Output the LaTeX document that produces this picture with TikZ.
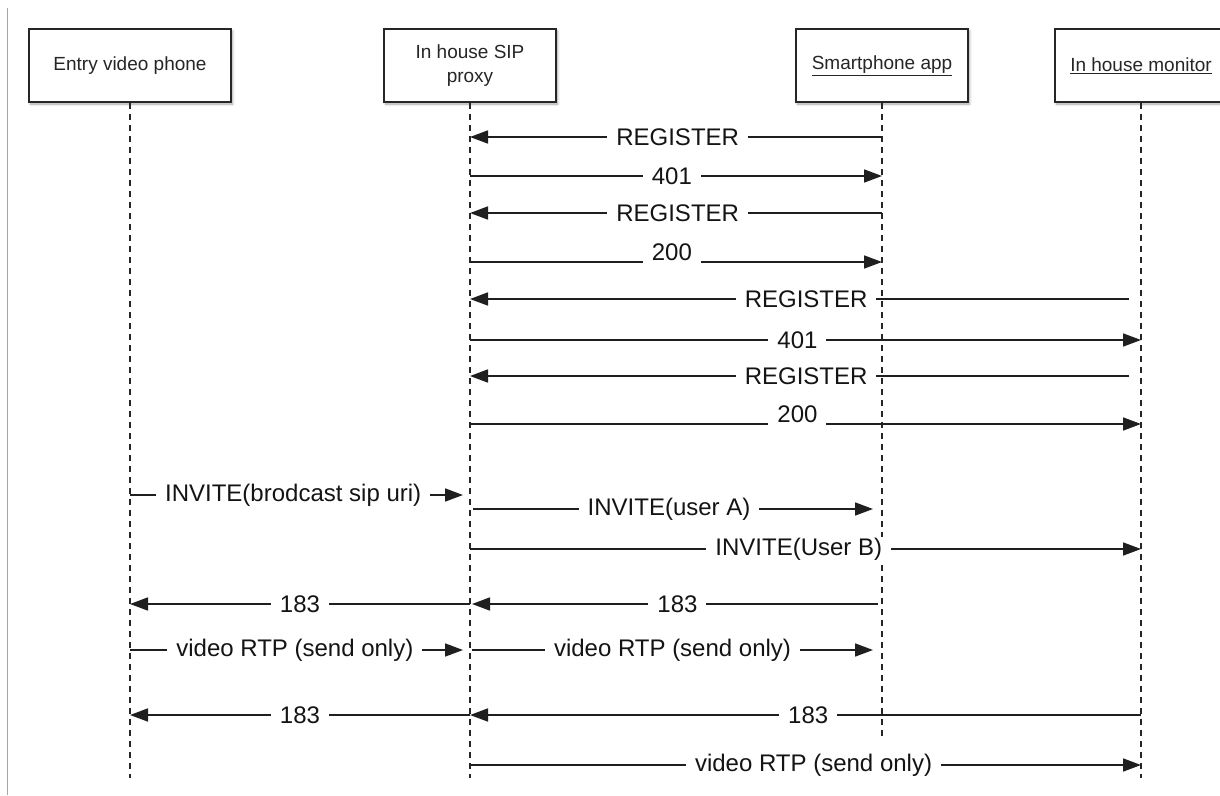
\documentclass[tikz,border=0pt]{standalone}
\usepackage{fontspec}
\setmainfont{Liberation Sans}
\usetikzlibrary{arrows.meta,shadows.blur,calc}
\begin{document}
\begin{tikzpicture}[x=1pt,y=-1pt,
  actor/.style={draw=black!85, line width=1.6pt, fill=white, minimum width=172pt,
    minimum height=73pt, align=center, inner sep=0pt,
    font=\fontsize{19}{24}\selectfont, text=black!85,
    blur shadow={shadow xshift=1.5pt, shadow yshift=-2pt, shadow blur steps=6,
      shadow blur radius=2.5pt, shadow opacity=35}},
  lifeline/.style={draw=black!85, line width=1.5pt, dash pattern=on 6pt off 5pt},
  msg/.style={draw=black!88, line width=1.7pt, -{Triangle[length=18pt,width=13pt]}},
  lbl/.style={fill=white, inner xsep=9pt, inner ysep=1pt,
    font=\fontsize{24}{28}\selectfont, text=black!92},
  hi/.style={yshift=10pt, inner ysep=4pt}
]
\useasboundingbox (0,0) rectangle (1220,795);
\clip (0,0) rectangle (1220,795);
% left frame line
\coordinate (f1) at (7,8);
\coordinate (f2) at (7,795);
\draw[black!35, line width=1pt] (f1) -- (f2);

% actors
\node[actor, minimum width=202pt] (a1) at (130,65.5) {Entry video phone};
\node[actor] (a2) at (470,65.5) {In house SIP\\proxy};
\node[actor] (a3) at (882,65.5) {\underline{Smartphone app}};
\node[actor] (a4) at (1141,65.5) {\underline{In house monitor}};

% lifeline ends
\coordinate (e1) at (130,778);
\coordinate (e2) at (470,778);
\coordinate (e3) at (882,740);
\coordinate (e4) at (1141,778);
\draw[lifeline] (a1.south) -- (e1);
\draw[lifeline] (a2.south) -- (e2);
\draw[lifeline] (a3.south) -- (e3);
\draw[lifeline] (a4.south) -- (e4);

% message rows
\coordinate (r1) at (0,137);
\coordinate (r2) at (0,176);
\coordinate (r3) at (0,213);
\coordinate (r4) at (0,262);
\coordinate (r5) at (0,299);
\coordinate (r6) at (0,340);
\coordinate (r7) at (0,376);
\coordinate (r8) at (0,424);
\coordinate (r9) at (0,495);
\coordinate (r10) at (0,509);
\coordinate (r11) at (0,549);
\coordinate (r12) at (0,604);
\coordinate (r13) at (0,650);
\coordinate (r14) at (0,715);
\coordinate (r15) at (0,765);

% registration of smartphone app
\draw[msg] (a3.south |- r1) -- node[lbl, pos=0.496] {REGISTER} (a2.south |- r1);
\draw[msg] (a2.south |- r2) -- node[lbl, pos=0.49] {401} (a3.south |- r2);
\draw[msg] (a3.south |- r3) -- node[lbl, pos=0.496] {REGISTER} (a2.south |- r3);
\draw[msg] (a2.south |- r4) -- node[lbl, hi, pos=0.49] {200} (a3.south |- r4);

% registration of in house monitor
\draw[msg] ($(a4.south |- r5)+(-12,0)$) -- node[lbl, pos=0.49] {REGISTER} (a2.south |- r5);
\draw[msg] (a2.south |- r6) -- node[lbl, pos=0.488] {401} (a4.south |- r6);
\draw[msg] ($(a4.south |- r7)+(-12,0)$) -- node[lbl, pos=0.49] {REGISTER} (a2.south |- r7);
\draw[msg] (a2.south |- r8) -- node[lbl, hi, pos=0.488] {200} (a4.south |- r8);

% invites
\draw[msg] (a1.south |- r9) -- node[lbl, pos=0.49] {INVITE(brodcast sip uri)} ($(a2.south |- r9)+(-7,0)$);
\draw[msg] ($(a2.south |- r10)+(3,0)$) -- node[lbl, pos=0.49] {INVITE(user A)} ($(a3.south |- r10)+(-9,0)$);
\draw[msg] (a2.south |- r11) -- node[lbl, pos=0.49] {INVITE(User B)} (a4.south |- r11);

% 183 responses
\draw[msg] (a2.south |- r12) -- node[lbl, pos=0.5] {183} (a1.south |- r12);
\draw[msg] ($(a3.south |- r12)+(-4,0)$) -- node[lbl, pos=0.494] {183} ($(a2.south |- r12)+(2,0)$);

% media
\draw[msg] (a1.south |- r13) -- node[lbl, pos=0.495] {video RTP (send only)} ($(a2.south |- r13)+(-7,0)$);
\draw[msg] ($(a2.south |- r13)+(2,0)$) -- node[lbl, pos=0.5] {video RTP (send only)} ($(a3.south |- r13)+(-9,0)$);

\draw[msg] (a2.south |- r14) -- node[lbl, pos=0.5] {183} (a1.south |- r14);
\draw[msg] (a4.south |- r14) -- node[lbl, pos=0.496] {183} (a2.south |- r14);

\draw[msg] (a2.south |- r15) -- node[lbl, pos=0.512] {video RTP (send only)} (a4.south |- r15);
\end{tikzpicture}
\end{document}
